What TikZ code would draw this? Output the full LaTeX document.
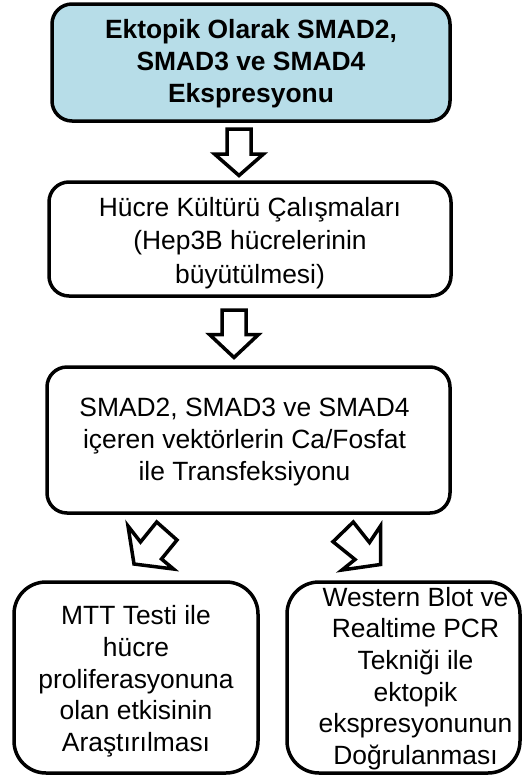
\documentclass[tikz,border=0pt]{standalone}
\usepackage{fontspec}
\setmainfont{Liberation Sans}
\definecolor{boxblue}{HTML}{B7DDE8}
\begin{document}
\begin{tikzpicture}[x=1pt,y=-1pt,
  box/.style={draw=black, line width=3.5pt, rounded corners=20pt, inner sep=0pt},
  bigbox/.style={box, rounded corners=32pt},
  txt/.style={inner sep=0pt, align=center, font=\fontsize{26.4}{31.7}\selectfont},
  blockarrow/.style={draw=black, line width=3.5pt, fill=white, line join=miter}
]
\useasboundingbox (0,0) rectangle (525,780);

\node[box, fill=boxblue, minimum width=398pt, minimum height=117pt] (b1) at (251,62.5) {};
\node[txt, font=\fontsize{26.4}{31.7}\selectfont\bfseries] (b1t) at ([yshift=-1pt]b1.center)
  {Ektopik Olarak SMAD2,\\SMAD3 ve SMAD4\\Ekspresyonu};

\node[box, minimum width=402pt, minimum height=114pt] (b2) at (250,239) {};
\node[txt, font=\fontsize{26.4}{33.3}\selectfont] (b2t) at ([yshift=-4pt]b2.center)
  {Hücre Kültürü Çalışmaları\\(Hep3B hücrelerinin\\büyütülmesi)};

\node[box, minimum width=403pt, minimum height=146pt] (b3) at (248.5,440) {};
\node[txt] (b3t) at ([xshift=-4pt,yshift=-2pt]b3.center)
  {SMAD2, SMAD3 ve SMAD4\\içeren vektörlerin Ca/Fosfat\\ile Transfeksiyonu};

\node[bigbox, minimum width=244pt, minimum height=191pt] (b4) at (136,677.5) {};
\node[txt] (b4t) at ([yshift=-4pt]b4.center)
  {MTT Testi ile\\hücre\\proliferasyonuna\\olan etkisinin\\Araştırılması};

\node[bigbox, minimum width=233pt, minimum height=191pt] (b5) at (403.5,677.5) {};
\node[txt] (b5t) at ([xshift=12pt,yshift=-1pt]b5.center)
  {Western Blot ve\\Realtime PCR\\Tekniği ile\\ektopik\\ekspresyonunun\\Doğrulanması};

% block arrows
\draw[blockarrow] (227,129) -- (251,129) -- (251,154) -- (263.5,154) -- (239,175.5)
  -- (214.5,154) -- (227,154) -- cycle;
\draw[blockarrow] (222,310) -- (246,310) -- (246,334.5) -- (258.5,334.5) -- (234,357.5)
  -- (209.5,334.5) -- (222,334.5) -- cycle;
\draw[blockarrow] (128,526) -- (134,564) -- (173.5,569) -- (161.5,559) -- (177,540)
  -- (156.7,522) -- (140.5,542) -- cycle;
\draw[blockarrow] (353.3,522) -- (333,541.7) -- (355,559.5) -- (342,570) -- (380.5,564.5)
  -- (380.5,526) -- (369.5,542.5) -- cycle;
\end{tikzpicture}
\end{document}
